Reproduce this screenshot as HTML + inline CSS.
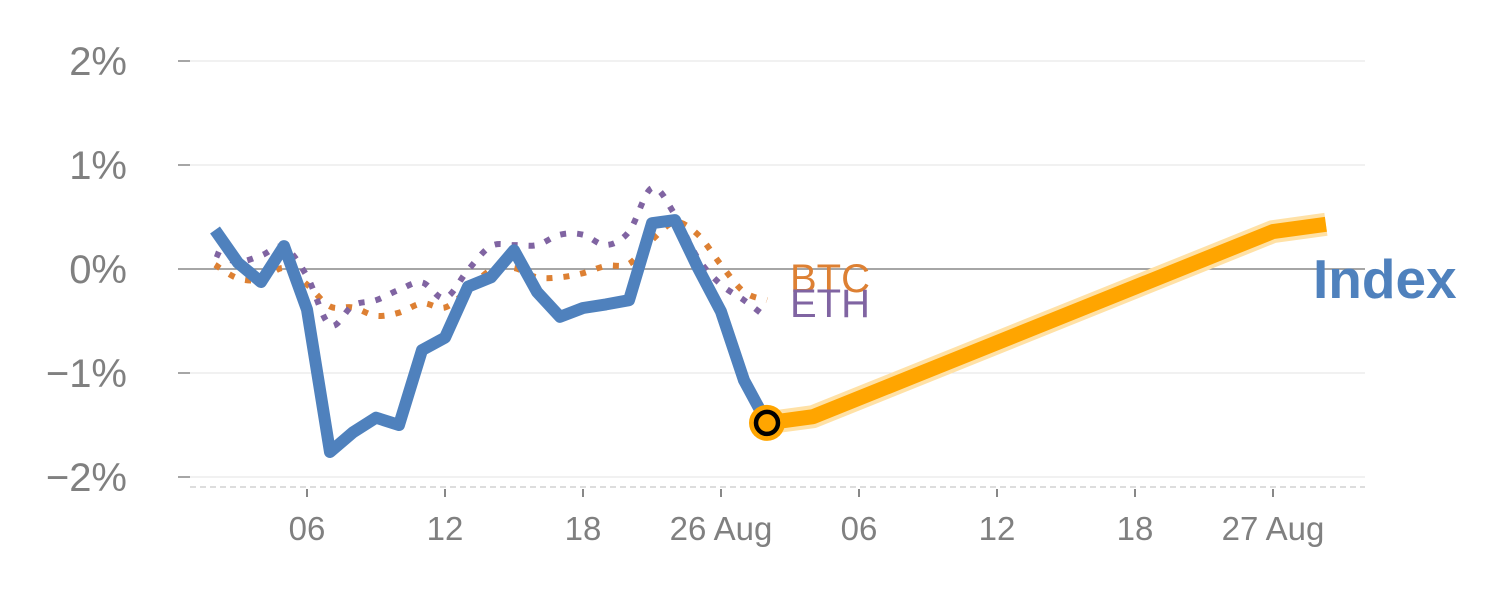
<!DOCTYPE html>
<html><head><meta charset="utf-8"><style>
html,body{margin:0;padding:0;background:#fff;}
svg{display:block;font-family:"Liberation Sans",Arial,sans-serif;}
</style></head><body>
<svg id="chart" width="1500" height="600" xmlns="http://www.w3.org/2000/svg">
<g id="grid"></g>
<g id="yaxis"></g>
<g id="xaxis"></g>
<g id="series"></g>
<text x="790" y="292" font-size="40" fill="#dd8033">BTC</text>
<text x="790" y="317" font-size="40" fill="#8064a2">ETH</text>
<text x="1313" y="298" font-size="55" font-weight="bold" fill="#4f81bd">Index</text>
</svg>
<script>
const yTicks = [2, 1, 0, -1, -2];
const yTickLabels = ["2%", "1%", "0%", "\u22121%", "\u22122%"];
const xTickHours = [6, 12, 18, 24, 30, 36, 42, 48];
const xTickLabels = ["06", "12", "18", "26 Aug", "06", "12", "18", "27 Aug"];
const histHours = [2,3,4,5,6,7,8,9,10,11,12,13,14,15,16,17,18,19,20,21,22,23,24,25,26];
const indexVals = [0.375,0.06,-0.125,0.22,-0.39,-1.76,-1.57,-1.43,-1.5,-0.78,-0.66,-0.17,-0.08,0.18,-0.22,-0.46,-0.375,-0.34,-0.30,0.44,0.47,0.01,-0.41,-1.07,-1.48];
const btcVals = [0.04,-0.09,-0.1,0.01,-0.15,-0.36,-0.37,-0.45,-0.42,-0.33,-0.37,-0.2,-0.01,0.01,-0.08,-0.08,-0.04,0.03,0.05,0.28,0.45,0.33,0.04,-0.22,-0.30];
const ethVals = [0.15,0.07,0.13,0.21,-0.07,-0.54,-0.35,-0.30,-0.2,-0.13,-0.28,-0.01,0.22,0.23,0.23,0.33,0.33,0.23,0.36,0.78,0.52,0.1,-0.15,-0.3,-0.47];
const fcHours = [26, 28, 48, 50.3];
const fcVals = [-1.48, -1.42, 0.36, 0.43];

const NS = "http://www.w3.org/2000/svg";
function xs(h){ return 169 + 23*h; }
function ys(v){ return 269 - 104*v; }
function mk(tag, attrs, parent){
  const e = document.createElementNS(NS, tag);
  for (const k in attrs) e.setAttribute(k, attrs[k]);
  parent.appendChild(e); return e;
}
const grid = document.getElementById('grid');
const yaxis = document.getElementById('yaxis');
const xaxis = document.getElementById('xaxis');
const series = document.getElementById('series');

yTicks.forEach((t,i)=>{
  const gl = mk('line',{x1:190,x2:1365,y1:ys(t),y2:ys(t),stroke:t===0?'#888':'#e3e3e3','stroke-width':t===0?1.5:1},grid);
  
  
  const tk = mk('line',{x1:178,x2:190,y1:ys(t),y2:ys(t),stroke:'#888','stroke-width':1.5},yaxis);
  
  
  const tx = mk('text',{x:127,y:ys(t)+14,'font-size':40,fill:'#808080','text-anchor':'end'},yaxis);
  tx.textContent = yTickLabels[i];
  
  
});
const base = mk('line',{x1:190,x2:1365,y1:487,y2:487,stroke:'#ddd','stroke-width':2,'stroke-dasharray':'6,4'},xaxis);


xTickHours.forEach((h,i)=>{
  const tk = mk('line',{x1:xs(h),x2:xs(h),y1:489,y2:497,stroke:'#888','stroke-width':2},xaxis);
  
  
  const tx = mk('text',{x:xs(h),y:540,'font-size':33,fill:'#808080','text-anchor':'middle'},xaxis);
  tx.textContent = xTickLabels[i];
  
  
});

function linePath(hs, vs){
  return hs.map((h,i)=>(i?'L':'M')+xs(h).toFixed(1)+','+ys(vs[i]).toFixed(1)).join(' ');
}
function smoothPath(hs, vs){
  const p = hs.map((h,i)=>[xs(h), ys(vs[i])]);
  let d = 'M'+p[0][0]+','+p[0][1];
  for (let i=0;i<p.length-1;i++){
    const p0=p[Math.max(0,i-1)], p1=p[i], p2=p[i+1], p3=p[Math.min(p.length-1,i+2)];
    const c1=[p1[0]+(p2[0]-p0[0])/6, p1[1]+(p2[1]-p0[1])/6];
    const c2=[p2[0]-(p3[0]-p1[0])/6, p2[1]-(p3[1]-p1[1])/6];
    d += ' C'+c1[0].toFixed(1)+','+c1[1].toFixed(1)+' '+c2[0].toFixed(1)+','+c2[1].toFixed(1)+' '+p2[0].toFixed(1)+','+p2[1].toFixed(1);
  }
  return d;
}
const btc = mk('path',{d:smoothPath(histHours,btcVals),fill:'none',stroke:'#dd8033','stroke-width':6,'stroke-dasharray':'6,11'},series);


const eth = mk('path',{d:smoothPath(histHours,ethVals),fill:'none',stroke:'#8064a2','stroke-width':6,'stroke-dasharray':'6,11'},series);


const idx = mk('path',{d:linePath(histHours,indexVals),fill:'none',stroke:'#4f81bd','stroke-width':12,'stroke-linejoin':'round'},series);


const halo = mk('path',{d:linePath(fcHours,fcVals),fill:'none',stroke:'#ffe1a6','stroke-width':23,'stroke-linejoin':'round'},series);


const fc = mk('path',{d:linePath(fcHours,fcVals),fill:'none',stroke:'#ffa500','stroke-width':15,'stroke-linejoin':'round'},series);


const lastH = histHours[histHours.length-1], lastV = indexVals[indexVals.length-1];
const dot = mk('circle',{cx:xs(lastH),cy:ys(lastV),r:18,fill:'#ffa500'},series);


const ring = mk('circle',{cx:xs(lastH),cy:ys(lastV),r:11,fill:'#ffa500',stroke:'#000','stroke-width':4.5},series);


</script>
</body></html>
